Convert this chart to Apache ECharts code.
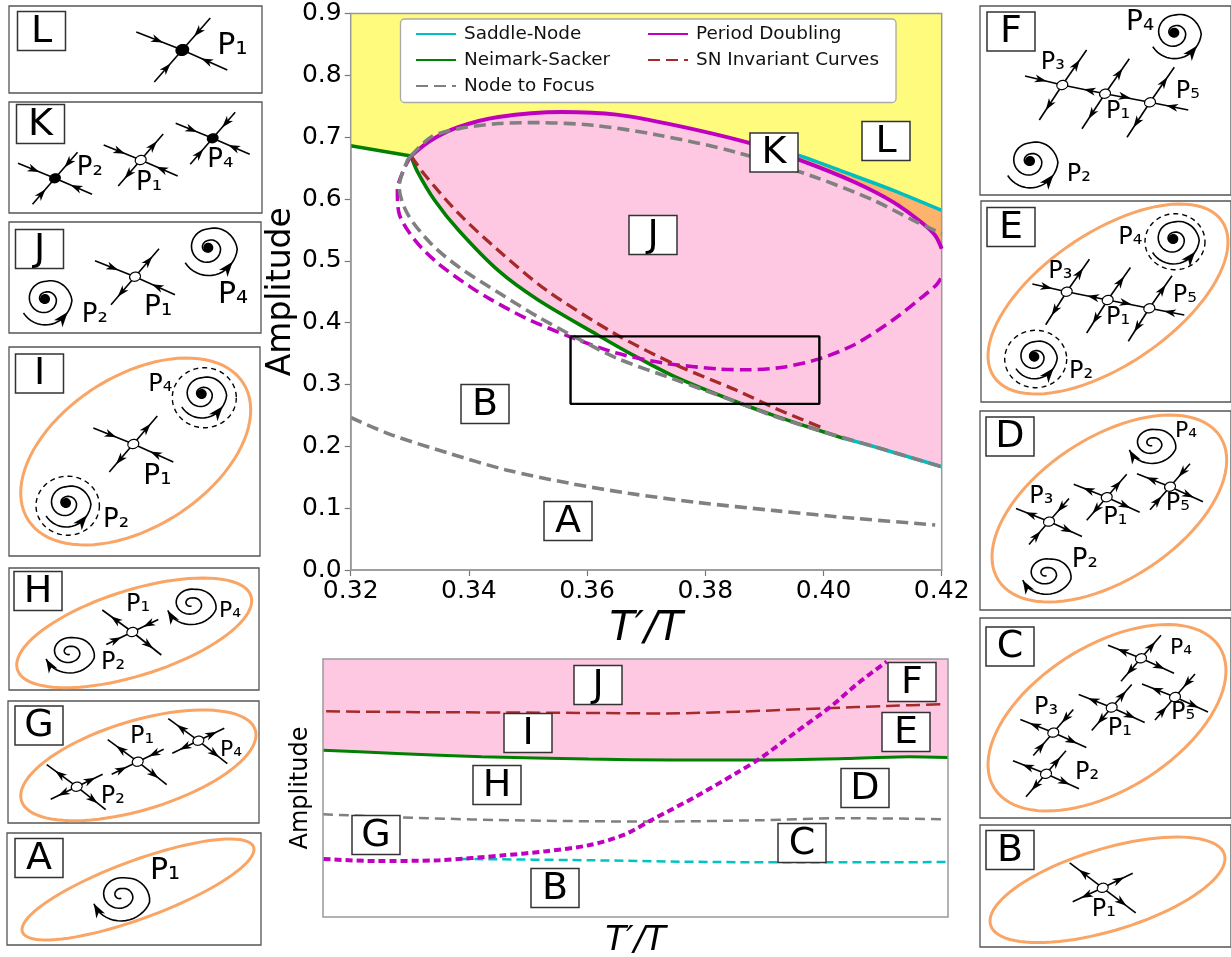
<!DOCTYPE html>
<html><head><meta charset="utf-8">
<style>html,body{margin:0;padding:0;background:#fff}#c{width:1231px;height:957px}</style>
<script src="https://cdn.jsdelivr.net/npm/echarts@6/dist/echarts.min.js"></script>
</head><body><div id="c"></div>
<script>
// ---- main diagram values (T'/T, Amplitude) ----
const xTicks = [0.32, 0.34, 0.36, 0.38, 0.40, 0.42];
const yTicks = [0, 0.1, 0.2, 0.3, 0.4, 0.5, 0.6, 0.7, 0.8, 0.9];
const nsLeft = [[0.32,0.686],[0.3302,0.6696]];
const nsMain = [[0.3302,0.6696],[0.3312,0.646],[0.3342,0.598],[0.3383,0.549],[0.345,0.484],[0.3516,0.4375],[0.3617,0.3805],[0.3677,0.348],[0.375,0.312],[0.3851,0.2725],[0.3918,0.2493],[0.3998,0.224],[0.4035,0.2125]];
const snLower = [[0.4035,0.2125],[0.4085,0.1997],[0.42,0.167]];
const snUpper = [[0.3874,0.6925],[0.3958,0.6706],[0.4051,0.638],[0.4118,0.614],[0.42,0.5816]];
const pdUpper = [[0.3302,0.6696],[0.3336,0.695],[0.3383,0.7165],[0.345,0.7327],[0.3557,0.7408],[0.365,0.7365],[0.375,0.719],[0.3874,0.6906],[0.3958,0.6636],[0.4052,0.6275],[0.4118,0.595],[0.4165,0.5627],[0.4189,0.541],[0.42,0.5195]];
const pdLower = [[0.3302,0.6696],[0.3289,0.646],[0.3279,0.614],[0.3282,0.5762],[0.3309,0.533],[0.3349,0.495],[0.3403,0.4575],[0.3436,0.438],[0.3496,0.4074],[0.3577,0.375],[0.365,0.3508],[0.373,0.3346],[0.3824,0.325],[0.3871,0.3238],[0.3931,0.328],[0.3991,0.341],[0.4052,0.3643],[0.4118,0.4047],[0.4165,0.44],[0.419,0.46],[0.42,0.4737]];
const nfUpper = [[0.3302,0.6696],[0.3336,0.7003],[0.3383,0.7138],[0.345,0.722],[0.3516,0.7235],[0.361,0.7192],[0.3717,0.704],[0.3851,0.676],[0.3985,0.6356],[0.4085,0.5978],[0.4152,0.5654],[0.42,0.5438]];
const nfLeft = [[0.3302,0.6696],[0.3296,0.6625],[0.3282,0.6194],[0.3296,0.5762],[0.3336,0.5276],[0.3383,0.49],[0.3456,0.445],[0.3516,0.41],[0.3583,0.375],[0.365,0.3427],[0.375,0.3076],[0.3851,0.2725],[0.3918,0.2482],[0.3998,0.224],[0.4085,0.1997],[0.42,0.167]];
const nfBottom = [[0.32,0.2466],[0.3269,0.2186],[0.3366,0.1889],[0.3463,0.1619],[0.357,0.1403],[0.367,0.1241],[0.3784,0.1096],[0.3918,0.096],[0.4052,0.0836],[0.4189,0.0729]];
const snInv = [[0.3302,0.6696],[0.3326,0.6383],[0.3383,0.5762],[0.345,0.5168],[0.353,0.4533],[0.365,0.3805],[0.375,0.3319],[0.3851,0.2914],[0.3918,0.2617],[0.3995,0.231]];
const zoomBox = [[0.3572,0.3778],[0.3993,0.3778],[0.3993,0.2687],[0.3572,0.2687],[0.3572,0.3778]];
// ---- inset values (arbitrary units, no ticks in source) ----
const insetNS = [[0,64.6],[11.8,63.4],[25.4,62.1],[42.5,61.2],[56.2,60.9],[69.9,60.9],[83.6,61.4],[93.8,62.1],[100,61.8]];
const insetInv = [[0.5,79.7],[15.2,79.4],[35.7,79.2],[54.9,78.9],[66.5,79.6],[80.2,80.9],[90.4,81.8],[99.3,82.5]];
const insetNF = [[0,39.8],[15.2,38.4],[32.3,37.4],[52.8,37],[69.9,37.5],[83.6,38.3],[99.3,37.9]];
const insetPD = [[0.1,22.5],[8.3,21.7],[18.6,22],[28.9,23.9],[35.7,25.5],[42.5,27.8],[48,31.7],[52.8,37.9],[59.6,46.6],[66.5,56.3],[69.9,61.4],[75.4,71.2],[81.2,81.5],[85.6,90.6],[90.2,99]];
const insetSN = [[22,22.5],[42.5,22],[63.1,21.3],[83.6,21.2],[100.7,21.3]];
// ---- labels ----
const legendLeft = ['Saddle-Node','Neimark-Sacker','Node to Focus'];
const legendRight = ['Period Doubling','SN Invariant Curves'];
const plotLabels = [['K',774,152.5],['L',886,141],['J',653,235],['B',485,404],['A',568,521],
  ['J',598,685],['F',912,682],['I',528,733],['E',906,732],['H',497,785],['D',865,788],['G',376,835],['C',802,843],['B',555,888]];
// ---- schematic panels: box [x0,y0,x1,y1], letter [cx,cy], ellipse [x0,x1,y0,y1,topX] ----
const panels = [
 {box:[9,6,262,93],    tag:['L',41.5,31]},
 {box:[9,102,262,213], tag:['K',40.5,124]},
 {box:[9,222,261,333], tag:['J',39.5,249]},
 {box:[9,347,260,556], tag:['I',39.5,373.5], ell:[20.7,250.7,358,545,186.7]},
 {box:[9,568,259,690], tag:['H',38,591],     ell:[16.7,251.7,578,687.7,203]},
 {box:[8,701,259,823], tag:['G',39,725.5],   ell:[20.7,256,710,820.7,203]},
 {box:[7,833,261,945], tag:['A',39,858],     ell:[22,254,839,940,230]},
 {box:[980,6,1231,195],   tag:['F',1011,31.5]},
 {box:[981,201,1231,402], tag:['E',1011,227],  ell:[988,1228,204,394,1180]},
 {box:[980,411,1231,610], tag:['D',1010,436.5],ell:[992,1226.7,415,602,1170]},
 {box:[980,618,1231,818], tag:['C',1010,646.5],ell:[988,1226,624.5,811,1167]},
 {box:[980,825,1231,947], tag:['B',1010,850],  ell:[990,1225,837,942.6,1177]}
];
// arm templates: UR, LL, UL, LR end offsets
const T = {
 big:[[28,-32],[-28,32],[-46,-18],[45,20]],
 std:[[24,-28],[-24,28],[-40,-16],[40,18]],
 sm:[[22.5,-26],[-22.5,26],[-37,-15],[37,16]],
 flat:[[26,-12.5],[-26,12.5],[-30,-22],[29,23]],
 wide:[[30,-14.5],[-30,14],[-33,-25],[33,25]],
 cd:[[20,-23],[-20,23],[-33,-13],[33,15]]
};
// nodes: [cx,cy,template,aMode,bMode,filled]  i = arrows in, o = arrows out
const nodes = [
 [182.3,50,'big','i','i',2],
 [55,178.3,'sm','i','i',1],[140.7,160,'sm','o','i',0],[212.7,138.3,'sm','i','i',1],
 [135,276.7,'std','o','i',0],
 [133.3,444,'std','o','i',0],
 [132.3,632,'flat','i','o',0],
 [76.7,786.7,'flat','o','o',0],[137.7,761.7,'flat','i','o',0],[198.3,740.7,'flat','o','o',0],
 [1049,521.6,'cd','i','o',0],[1106.7,497.2,'cd','o','o',0],[1170,486.7,'cd','i','o',0],
 [1141,658.3,'cd','o','o',0],[1175,697,'cd','i','o',0],[1111.7,707.5,'cd','o','o',0],[1053.3,732.6,'cd','i','o',0],[1046,773.8,'cd','o','o',0],
 [1102.7,887.8,'wide','o','o',0]
];
// chains in F and E: three open nodes joined along one unstable direction
const chains = [
 {p3:[1062.3,85],p1:[1105,93.7],p5:[1150,102.3],up:[24.3,-35],dn:[-23,35],l:[-37.3,-9],r:[38.3,7.7]},
 {p3:[1066.7,291.7],p1:[1107.7,300],p5:[1149.3,308.3],up:[22.7,-32.5],dn:[-21,33],l:[-34.3,-7.7],r:[35,6.7]}
];
// spirals: [cx,cy,R,squash,kind]  s = stable with dot, u = unstable open
const spirals = [
 [208.3,247.7,29,1,'s'],[45,299,27,1,'s'],
 [201.7,394,25,1,'s'],[66,503,25,1,'s'],
 [1174.3,32.7,27,1,'s'],[1030,161,28,1,'s'],
 [1173.3,239,26,1,'s'],[1034.3,356.7,23,1,'s'],
 [191,603.3,26,.85,'u'],[69.3,651.7,26,.85,'u'],
 [1151.7,443,25,.85,'u'],[1046,573,26,.85,'u'],
 [120.7,895,30,.9,'u']
];
// dashed invariant circles: [cx,cy,rx,ry]
const circles = [[204.3,397.7,32,30],[67.7,505.7,31.7,29.5],[1175,241.7,30,28],[1035.7,359,31,28.7]];
// P labels: [text,x,y,size]
const pLabels = [
 ['P₁',217.3,46,30],
 ['P₂',76.7,168.3,26],['P₁',136,183.3,26],['P₄',207.3,160,26],
 ['P₂',81.7,315,26],['P₁',144,308,28],['P₄',218,295,30],
 ['P₄',148.3,385,24],['P₁',143.3,476.7,28],['P₂',103,520,26],
 ['P₁',126,605,24],['P₄',219,611.7,22],['P₂',101,663,24],
 ['P₁',130,736.7,24],['P₄',220,750,22],['P₂',100.7,797,24],
 ['P₁',150,871.7,30],
 ['P₃',1040.7,63,24],['P₁',1106,111.7,24],['P₅',1175.7,92,24],['P₄',1126,23,28],['P₂',1066.7,175,24],
 ['P₃',1048.3,272,24],['P₁',1106,317.7,24],['P₅',1172.7,295.7,24],['P₄',1118.3,237.3,24],['P₂',1069,371.7,24],
 ['P₃',1029.3,497,24],['P₁',1103.3,517.4,24],['P₅',1165.7,504,24],['P₄',1175,431.6,22],['P₂',1071.7,560.7,26],
 ['P₄',1170,648,22],['P₅',1171,713,24],['P₁',1107.7,729,24],['P₃',1034,708,24],['P₂',1075,772.7,24],
 ['P₁',1091.7,909.5,24]
];

// ---- colours ----
const YELLOW='#fffb7c',PINK='#fec8e3',ORANGE='#fdb36b',ORLINE='#f9a566';
const CYAN='#00bfbf',GREEN='#008000',MAG='#bf00bf',BROWN='#a52a2a',GRAY='#808080';
const FONT='"DejaVu Sans"';

// ---- fills ----
const fillYellow = [[0.32,0.9],[0.42,0.9],...snUpper.slice().reverse(),...pdUpper.slice(0,8).reverse(),...nsLeft.slice().reverse()];
const fillPink = [...pdUpper,[0.42,0.167],...snLower.slice().reverse(),...nsMain.slice().reverse()];
const fillOrange = [...snUpper,[0.42,0.5195],...pdUpper.slice(7).reverse()];
const fillInset = [[0,100],[100,100],...insetNS.slice().reverse()];

function poly(pts,color,idx){return {type:'custom',coordinateSystem:'cartesian2d',xAxisIndex:idx,yAxisIndex:idx,silent:true,z:1,clip:true,data:pts,
  renderItem:(p,api)=>p.dataIndex?null:{type:'polygon',shape:{points:pts.map(q=>api.coord(q))},style:{fill:color}}};}
function line(name,data,color,width,dash,idx,extra){return Object.assign({type:'line',name,data,xAxisIndex:idx||0,yAxisIndex:idx||0,showSymbol:false,symbol:'none',smooth:0.3,silent:true,z:3,
  lineStyle:{color,width,type:dash||'solid',cap:'butt'},itemStyle:{color}},extra||{});}

// ---- schematic helpers ----
const g=[];
function pline(pts,stroke,w,dash){g.push({type:'polyline',silent:true,z:11,shape:{points:pts},style:{stroke,lineWidth:w,fill:null,lineDash:dash||null}});}
function arrow(x,y,dx,dy,len,hw){const m=Math.hypot(dx,dy);dx/=m;dy/=m;const bx=x-dx*len,by=y-dy*len,nx=x-dx*len*.72,ny=y-dy*len*.72;
  g.push({type:'polygon',silent:true,z:12,shape:{points:[[x,y],[bx-dy*hw,by+dx*hw],[nx,ny],[bx+dy*hw,by-dx*hw]]},style:{fill:'#000'}});}
function ellPts(cx,cy,a,b,th){const o=[];for(let i=0;i<90;i++){const t=i/90*2*Math.PI,X=a*Math.cos(t),Y=b*Math.sin(t);o.push([cx+X*Math.cos(th)-Y*Math.sin(th),cy+X*Math.sin(th)+Y*Math.cos(th)]);}return o;}
function dot(x,y,rx,ry,fill,sw){g.push({type:'polygon',silent:true,z:13,shape:{points:ellPts(x,y,rx,ry,-.3)},style:{fill,stroke:'#000',lineWidth:sw}});}
function arm(c,v,mode){pline([c,[c[0]+v[0],c[1]+v[1]]],'#000',1.6);
  if(mode==='i')arrow(c[0]+v[0]*.42,c[1]+v[1]*.42,-v[0],-v[1],12,4);
  if(mode==='o')arrow(c[0]+v[0]*.72,c[1]+v[1]*.72,v[0],v[1],12,4);}
const spiralR=[[0,.95],[115,.97],[145,1],[235,.65],[325,.58],[415,.5],[505,.42],[595,.25],[685,.2],[800,.12]];
function rAt(d){for(let i=1;i<spiralR.length;i++){if(d<=spiralR[i][0]){const a=spiralR[i-1],b=spiralR[i];return a[1]+(b[1]-a[1])*(d-a[0])/(b[0]-a[0]);}}return .12;}
function spiral(s){const [cx,cy,R,q,kind]=s,start=kind==='s'?213:200,pts=[];
  const P=d=>{const f=(start+d)*Math.PI/180,r=R*rAt(d);return [cx+r*Math.cos(f),cy-q*r*Math.sin(f)];};
  for(let d=0;d<=800;d+=8)pts.push(P(d));
  pline(pts,'#000',1.6);
  if(kind==='s'){const a=P(117),b=P(100);arrow(a[0],a[1],a[0]-b[0],a[1]-b[1],15,5.5);dot(cx,cy,5,5,'#000',0);}
  else{const a=P(0),b=P(14);arrow(a[0],a[1],a[0]-b[0],a[1]-b[1],14,5);}
}
function tag(t,cx,cy,w,h,fs){g.push({type:'rect',silent:true,z:20,shape:{x:cx-w/2,y:cy-h/2,width:w,height:h},style:{fill:'#fff',stroke:'#333',lineWidth:1.5}});
  g.push({type:'text',silent:true,z:21,style:{text:t,x:cx,y:cy+1,font:fs+'px '+FONT,fill:'#000',textAlign:'center',textVerticalAlign:'middle'}});}

panels.forEach(p=>{const b=p.box;g.push({type:'rect',silent:true,z:10,shape:{x:b[0],y:b[1],width:b[2]-b[0],height:b[3]-b[1]},style:{fill:'#fff',stroke:'#555',lineWidth:1.3}});});
panels.forEach(p=>{ if(p.ell){const [x0,x1,y0,y1,tx]=p.ell,W=(x1-x0)/2,H=(y1-y0)/2,cx=(x0+x1)/2,cy=(y0+y1)/2;
   const C=W*W-H*H,S=(tx-cx)*H*2,th=Math.atan2(S,C)/2,D=Math.hypot(S,C),sum=W*W+H*H,a=Math.sqrt((sum+D)/2),b=Math.sqrt((sum-D)/2);
   g.push({type:'polygon',silent:true,z:11,shape:{points:ellPts(cx,cy,a,b,-th)},style:{fill:null,stroke:ORLINE,lineWidth:3}});}
  tag(p.tag[0],p.tag[1],p.tag[2],48,39,38);});
nodes.forEach(n=>{const [x,y,t,am,bm,f]=n,c=[x,y],v=T[t];arm(c,v[0],am);arm(c,v[1],am);arm(c,v[2],bm);arm(c,v[3],bm);
  if(f)dot(x,y,f===2?7:6,f===2?6:5,'#000',0);else dot(x,y,5.5,4.5,'#fff',1.2);});
chains.forEach(ch=>{[ch.p3,ch.p1,ch.p5].forEach(c=>{arm(c,ch.up,'o');arm(c,ch.dn,'o');});
  arm(ch.p3,ch.l,'i');arm(ch.p5,ch.r,'i');
  pline([ch.p3,ch.p1,ch.p5],'#000',1.6);
  const m1=[(ch.p3[0]+ch.p1[0])/2,(ch.p3[1]+ch.p1[1])/2],m2=[(ch.p1[0]+ch.p5[0])/2,(ch.p1[1]+ch.p5[1])/2];
  arrow(m1[0],m1[1],ch.p3[0]-ch.p1[0],ch.p3[1]-ch.p1[1],12,4);arrow(m2[0]+3,m2[1],ch.p5[0]-ch.p1[0],ch.p5[1]-ch.p1[1],12,4);
  [ch.p3,ch.p1,ch.p5].forEach(c=>dot(c[0],c[1],5.5,4.5,'#fff',1.2));});
spirals.forEach(spiral);
circles.forEach(c=>g.push({type:'polygon',silent:true,z:11,shape:{points:ellPts(c[0],c[1],c[2],c[3],0)},style:{fill:null,stroke:'#000',lineWidth:1.4,lineDash:[5,4]}}));
pLabels.forEach(l=>g.push({type:'text',silent:true,z:14,style:{text:l[0],x:l[1],y:l[2],font:l[3]+'px '+FONT,fill:'#000',textVerticalAlign:'middle'}}));
plotLabels.forEach(l=>tag(l[0],l[1],l[2],48,39,38));
// legend frame
g.push({type:'rect',silent:true,z:5,shape:{x:400.5,y:19,width:495.5,height:83.5,r:4},style:{fill:'#fff',stroke:'#aaa',lineWidth:1.3}});

const dash=[12,6];
const W=3.6;
const chart=echarts.init(document.getElementById('c'),null,{renderer:'canvas'});
const legendBase={orient:'vertical',itemWidth:40,itemHeight:14,itemGap:8,z:6,silent:true,selectedMode:false,itemStyle:{opacity:0},textStyle:{fontFamily:FONT,fontSize:18.4,color:'#111',padding:[0,0,0,3]},padding:0};
chart.setOption({
 animation:false,backgroundColor:'#fff',
 grid:[{left:350.7,top:13.5,width:591,height:556.5,outerBoundsMode:'none',show:true,borderColor:'#999',borderWidth:1.5,backgroundColor:'transparent',z:4},
       {left:323,top:659,width:625,height:258,outerBoundsMode:'none',show:true,borderColor:'#999',borderWidth:1.5,backgroundColor:'transparent',z:4}],
 xAxis:[{type:'value',gridIndex:0,min:0.32,max:0.42,interval:0.02,
    axisLine:{show:true,onZero:false,lineStyle:{color:'#999',width:1.5}},axisTick:{show:true,length:6,lineStyle:{color:'#777',width:1.2}},splitLine:{show:false},
    axisLabel:{fontFamily:FONT,fontSize:25,color:'#000',margin:9,formatter:v=>xTicks.find(t=>Math.abs(t-v)<1e-6).toFixed(2)},
    name:"T′/T",nameLocation:'middle',nameGap:35,nameTextStyle:{fontFamily:FONT,fontStyle:'italic',fontSize:41,color:'#000'}},
   {type:'value',gridIndex:1,min:0,max:100,axisLine:{show:false},axisTick:{show:false},axisLabel:{show:false},splitLine:{show:false},
    name:"T′/T",nameLocation:'middle',nameGap:7,nameTextStyle:{fontFamily:FONT,fontStyle:'italic',fontSize:34,color:'#000'}}],
 yAxis:[{type:'value',gridIndex:0,min:0,max:0.9,interval:0.1,
    axisLine:{show:true,onZero:false,lineStyle:{color:'#999',width:1.5}},axisTick:{show:true,length:6,lineStyle:{color:'#777',width:1.2}},splitLine:{show:false},
    axisLabel:{fontFamily:FONT,fontSize:25,color:'#000',margin:9,formatter:v=>yTicks.find(t=>Math.abs(t-v)<1e-6).toFixed(1)},
    name:'Amplitude',nameLocation:'middle',nameRotate:90,nameGap:50,nameTextStyle:{fontFamily:FONT,fontSize:33,color:'#000'}},
   {type:'value',gridIndex:1,min:0,max:100,axisLine:{show:false},axisTick:{show:false},axisLabel:{show:false},splitLine:{show:false},
    name:'Amplitude',nameLocation:'middle',nameRotate:90,nameGap:10,nameTextStyle:{fontFamily:FONT,fontSize:24,color:'#000'}}],
 legend:[Object.assign({},legendBase,{data:legendLeft,left:415,top:25}),Object.assign({},legendBase,{data:legendRight,left:647,top:25})],
 series:[
  poly(fillYellow,YELLOW,0),poly(fillPink,PINK,0),poly(fillOrange,ORANGE,0),poly(fillInset,PINK,1),
  line('Saddle-Node',snUpper,CYAN,W),line('Saddle-Node',snLower,CYAN,W),
  line('Neimark-Sacker',nsMain,GREEN,W),line('Neimark-Sacker',nsLeft,GREEN,W),
  line('Node to Focus',nfUpper,GRAY,W,dash,0,{z:5}),line('Node to Focus',nfLeft,GRAY,W,dash,0,{z:4}),line('Node to Focus',nfBottom,GRAY,W,dash,0),
  line('Period Doubling',pdUpper,MAG,W+.3,null,0,{z:4}),line('Period Doubling',pdLower,MAG,W,dash,0),
  line('SN Invariant Curves',snInv,BROWN,W-.3,dash,0),
  {type:'line',data:zoomBox,xAxisIndex:0,yAxisIndex:0,symbol:'none',showSymbol:false,silent:true,z:6,lineStyle:{color:'#000',width:2.4}},
  line('inset NS',insetNS,GREEN,3,null,1),line('inset invariant',insetInv,BROWN,2.5,[14,6],1),line('inset focus',insetNF,GRAY,2.5,[10,6],1),
  line('inset SN',insetSN,'#00c4c4',2.5,[9,5],1,{clip:false}),line('inset PD',insetPD,MAG,4,[7,4],1,{z:4})
 ],
 graphic:{elements:g}
});
</script></body></html>
